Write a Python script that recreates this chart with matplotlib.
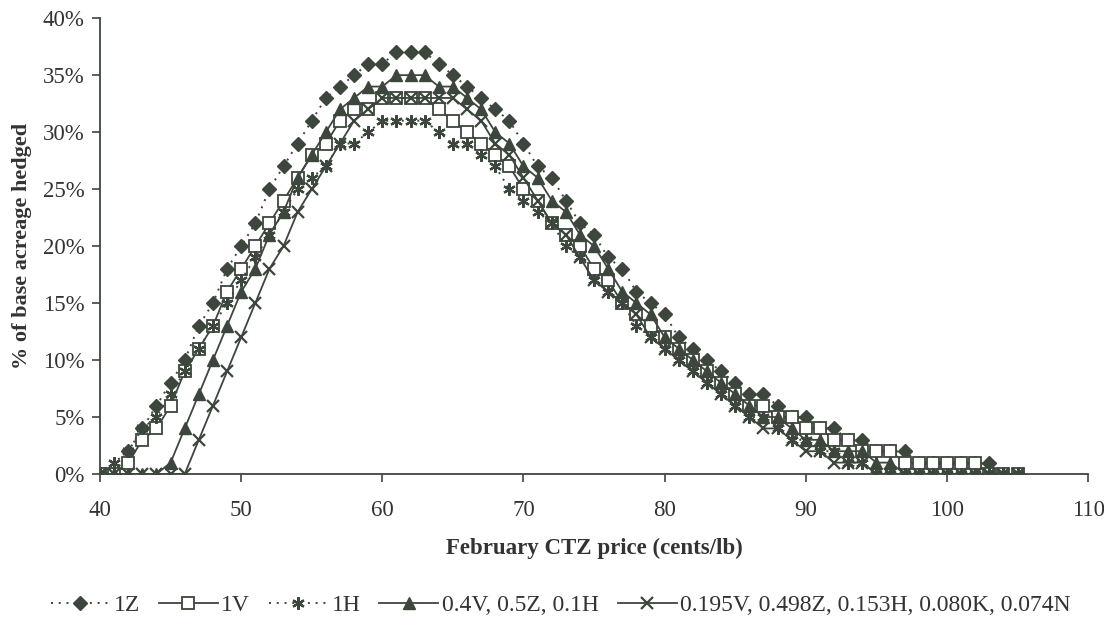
import matplotlib.pyplot as plt
from matplotlib.ticker import MultipleLocator, FuncFormatter

plt.rcParams['font.family'] = ['Liberation Serif', 'DejaVu Serif']

# February CTZ price, cents/lb (one point per cent)
price = list(range(40, 106))

# % of base acreage hedged
z1 = [0, 0, 2, 4, 6, 8, 10, 13, 15, 18, 20, 22, 25, 27, 29, 31, 33, 34, 35, 36,
      36, 37, 37, 37, 36, 35, 34, 33, 32, 31, 29, 27, 26, 24, 22, 21, 19, 18, 16, 15,
      14, 12, 11, 10, 9, 8, 7, 7, 6, 5, 5, 4, 4, 3, 3, 2, 2, 2, 1, 1,
      1, 1, 1, 1, 0, 0]
v1 = [0, 0, 1, 3, 4, 6, 9, 11, 13, 16, 18, 20, 22, 24, 26, 28, 29, 31, 32, 32,
      33, 33, 33, 33, 32, 31, 30, 29, 28, 27, 25, 24, 22, 21, 20, 18, 17, 15, 14, 13,
      12, 11, 10, 9, 8, 7, 6, 6, 5, 5, 4, 4, 3, 3, 2, 2, 2, 1, 1, 1,
      1, 1, 1, 0, 0, 0]
h1 = [0, 1, 2, 4, 5, 7, 9, 11, 13, 15, 17, 19, 21, 23, 25, 26, 27, 29, 29, 30,
      31, 31, 31, 31, 30, 29, 29, 28, 27, 25, 24, 23, 22, 20, 19, 17, 16, 15, 13, 12,
      11, 10, 9, 8, 7, 6, 5, 5, 4, 3, 3, 2, 2, 1, 1, 0, 0, 0, 0, 0,
      0, 0, 0, 0, 0, 0]
mix3 = [0, 0, 0, 0, 0, 1, 4, 7, 10, 13, 16, 18, 21, 23, 26, 28, 30, 32, 33, 34,
        34, 35, 35, 35, 34, 34, 33, 32, 30, 29, 27, 26, 24, 23, 21, 20, 18, 16, 15, 14,
        12, 11, 10, 9, 8, 7, 6, 5, 5, 4, 3, 3, 2, 2, 2, 1, 1, 0, 0, 0,
        0, 0, 0, 0, 0, 0]
mix5 = [0, 0, 0, 0, 0, 0, 0, 3, 6, 9, 12, 15, 18, 20, 23, 25, 27, 29, 31, 32,
        33, 33, 33, 33, 33, 33, 32, 31, 29, 28, 26, 24, 22, 21, 19, 17, 16, 15, 14, 12,
        11, 10, 9, 8, 7, 6, 5, 4, 4, 3, 2, 2, 1, 1, 1, 0, 0, 0, 0, 0,
        0, 0, 0, 0, 0, 0]

labels = ["1Z", "1V", "1H", "0.4V, 0.5Z, 0.1H",
          "0.195V, 0.498Z, 0.153H, 0.080K, 0.074N"]

ink = "#3c463c"
txt = "#333"

fig = plt.figure(figsize=(11.04, 6.27), dpi=100)
ax = fig.add_axes([0.0906, 0.244, 0.895, 0.727])

ax.plot(price, z1, color=ink, ls=(0, (1, 3)), lw=1.4, marker="D", ms=7,
        mfc=ink, mec=ink, label=labels[0])
ax.plot(price, v1, color=ink, ls="-", lw=1.3, marker="s", ms=8.5,
        mfc="white", mec=ink, mew=1.3, label=labels[1])
ax.plot(price, h1, color=ink, ls=(0, (1, 3)), lw=1.4, marker=(6, 2, 0), ms=9,
        mec=ink, mew=1.6, label=labels[2])
ax.plot(price, mix3, color=ink, ls="-", lw=1.3, marker="^", ms=8.5,
        mfc=ink, mec=ink, label=labels[3])
ax.plot(price, mix5, color=ink, ls="-", lw=1.3, marker="x", ms=9,
        mec=ink, mew=1.6, label=labels[4])

ax.set_xlim(40, 110)
ax.set_ylim(0, 40)
ax.xaxis.set_major_locator(MultipleLocator(10))
ax.yaxis.set_major_locator(MultipleLocator(5))
ax.yaxis.set_major_formatter(FuncFormatter(lambda v, p: f"{v:.0f}%"))

for s in ["top", "right"]:
    ax.spines[s].set_visible(False)
for s in ["left", "bottom"]:
    ax.spines[s].set_color(ink)
    ax.spines[s].set_linewidth(1.3)
ax.tick_params(colors=ink, labelcolor=txt, labelsize=16.5, length=6, width=1.2)
ax.tick_params(axis="x", pad=13)
ax.tick_params(axis="y", pad=5)

ax.set_xlabel("February CTZ price (cents/lb)", fontsize=16.5, fontweight="bold",
              color=txt, labelpad=12)
ax.set_ylabel("% of base acreage hedged", fontsize=16, fontweight="bold",
              color=txt, labelpad=8)

fig.legend(loc="center", bbox_to_anchor=(0.508, 0.035), ncol=5, frameon=False,
           fontsize=17, handlelength=2.5, handletextpad=0.15, columnspacing=0.8,
           labelcolor=txt)

fig.savefig("out.png", dpi=100)
